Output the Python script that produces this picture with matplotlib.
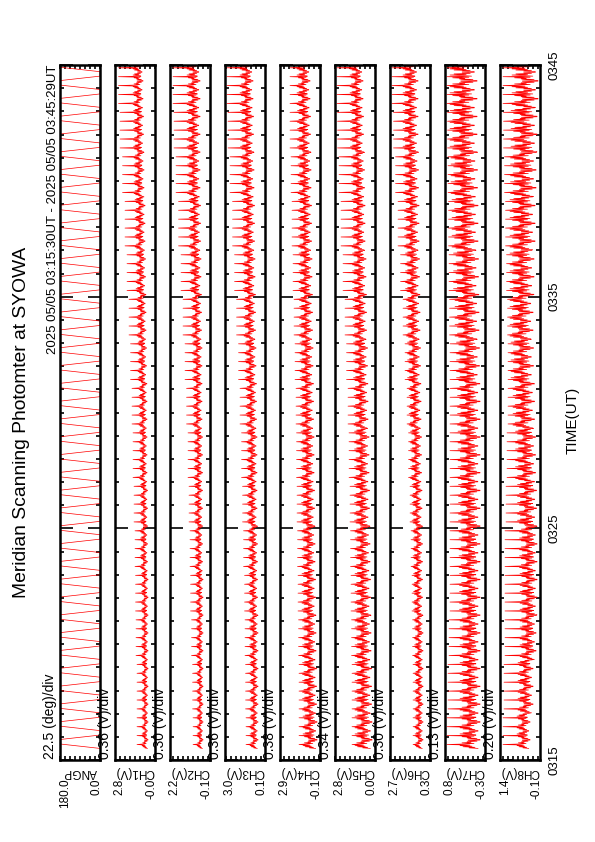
import numpy as np
import matplotlib.pyplot as plt
from matplotlib.ticker import MultipleLocator

plt.rcParams['font.family'] = ['Liberation Sans', 'DejaVu Sans']

# panel names, scale per division and the labels printed at both ends
names = ['ANGP', 'CH1(V)', 'CH2(V)', 'CH3(V)', 'CH4(V)', 'CH5(V)', 'CH6(V)', 'CH7(V)', 'CH8(V)']
per_div = [22.5, 0.36, 0.30, 0.36, 0.38, 0.34, 0.30, 0.13, 0.20]
div_text = ['22.5 (deg)/div', '0.36 (V)/div', '0.30 (V)/div', '0.36 (V)/div', '0.38 (V)/div',
            '0.34 (V)/div', '0.30 (V)/div', '0.13 (V)/div', '0.20 (V)/div']
low_vals = [0.0, -0.02, -0.1, 0.1, -0.1, 0.0, 0.3, -0.3, -0.1]
top_text = ['180.0', '2.8', '2.2', '3.0', '2.9', '2.8', '2.7', '0.8', '1.4']
low_text = ['0.0', '-0.0', '-0.1', '0.1', '-0.1', '0.0', '0.3', '-0.3', '-0.1']

time_ticks = [0, 10, 20, 30]
time_labels = ['0315', '0325', '0335', '0345']

# mirror sweeps: 0 -> 180 deg, hold, then back on the next sweep
n_sweeps = 78
scan_angle = [0, 22.5, 45, 67.5, 90, 112.5, 135, 157.5, 180, 180, 180, 180, 180, 180, 180, 180]

# relative brightness along one sweep (0..1); the long spike sample is marked separately
profile = [0.1, 0.55, 0.25, 0.85, 0.4, 1.0, 0.5, 0.2, 0.75, 0.3, 0.9, 0.45, 0.65, 0.15, 0.6, 0.0]
spike_at = 7

# per 2-minute block (0315-0317 ... 0343-0345), in divisions above panel minimum
base = {
    'CH1(V)': [1.4, 1.4, 1.4, 1.4, 1.5, 1.5, 1.6, 1.6, 1.7, 1.8, 1.9, 2.0, 2.2, 2.3, 2.4],
    'CH2(V)': [1.4, 1.4, 1.4, 1.4, 1.5, 1.5, 1.5, 1.6, 1.6, 1.7, 1.8, 1.9, 2.0, 2.0, 2.0],
    'CH3(V)': [1.4, 1.4, 1.4, 1.5, 1.5, 1.6, 1.6, 1.7, 1.8, 1.9, 2.0, 2.1, 2.2, 2.3, 2.4],
    'CH4(V)': [0.6, 0.7, 0.8, 0.9, 1.0, 1.1, 1.2, 1.3, 1.4, 1.5, 1.6, 1.7, 1.8, 1.9, 2.0],
    'CH5(V)': [0.6, 0.7, 0.8, 0.9, 1.0, 1.1, 1.2, 1.4, 1.5, 1.7, 1.8, 2.0, 2.1, 2.3, 2.4],
    'CH6(V)': [1.4, 1.4, 1.4, 1.5, 1.5, 1.6, 1.7, 1.8, 1.9, 2.0, 2.1, 2.2, 2.3, 2.4, 2.4],
    'CH7(V)': [1.0, 1.0, 1.0, 1.0, 1.0, 1.0, 1.0, 1.0, 1.1, 1.2, 1.3, 1.4, 1.5, 1.6, 1.6],
    'CH8(V)': [2.0, 1.4, 0.8, 0.6, 0.6, 0.7, 0.9, 1.1, 1.3, 1.4, 1.2, 1.0, 0.8, 0.6, 0.4],
}
wiggle = {
    'CH1(V)': [1.2, 1.2, 1.3, 1.3, 1.4, 1.4, 1.5, 1.6, 1.7, 1.8, 1.9, 2.0, 2.0, 2.0, 2.0],
    'CH2(V)': [1.2, 1.2, 1.3, 1.4, 1.5, 1.6, 1.7, 1.8, 1.9, 2.0, 2.2, 2.3, 2.5, 2.6, 2.6],
    'CH3(V)': [1.6, 1.6, 1.7, 1.7, 1.8, 1.9, 2.0, 2.1, 2.2, 2.3, 2.4, 2.5, 2.6, 2.6, 2.6],
    'CH4(V)': [2.8, 2.8, 2.7, 2.7, 2.6, 2.6, 2.6, 2.6, 2.6, 2.6, 2.6, 2.6, 2.6, 2.6, 2.6],
    'CH5(V)': [3.4, 3.3, 3.2, 3.1, 3.0, 3.0, 2.9, 2.8, 2.8, 2.7, 2.7, 2.6, 2.6, 2.6, 2.6],
    'CH6(V)': [1.6, 1.6, 1.7, 1.8, 1.9, 2.0, 2.2, 2.4, 2.6, 2.7, 2.8, 2.9, 3.0, 3.0, 3.0],
    'CH7(V)': [4.0, 4.0, 4.0, 4.1, 4.2, 4.3, 4.4, 4.5, 4.6, 4.8, 5.0, 5.2, 5.3, 5.4, 5.4],
    'CH8(V)': [2.6, 3.0, 3.2, 3.4, 3.5, 3.8, 4.0, 4.3, 4.5, 4.6, 4.8, 5.0, 5.1, 5.2, 5.2],
}
spike = {
    'CH1(V)': [3.6, 3.6, 3.8, 3.9, 4.0, 4.2, 4.4, 4.6, 4.9, 5.2, 5.6, 6.0, 6.5, 7.0, 7.3],
    'CH2(V)': [3.4, 3.5, 3.7, 3.9, 4.0, 4.2, 4.4, 4.7, 5.0, 5.4, 5.8, 6.3, 6.8, 7.2, 7.4],
    'CH3(V)': [3.8, 3.9, 4.0, 4.1, 4.3, 4.5, 4.7, 5.0, 5.3, 5.7, 6.1, 6.5, 7.0, 7.4, 7.6],
    'CH4(V)': [4.2, 4.2, 4.3, 4.4, 4.5, 4.6, 4.7, 4.8, 5.0, 5.2, 5.4, 5.6, 5.8, 6.0, 6.0],
    'CH5(V)': [4.6, 4.6, 4.7, 4.8, 4.9, 5.0, 5.2, 5.4, 5.7, 6.0, 6.4, 6.8, 7.2, 7.5, 7.6],
    'CH6(V)': [3.4, 3.4, 3.5, 3.6, 3.8, 4.0, 4.3, 4.6, 5.0, 5.4, 5.9, 6.4, 6.9, 7.3, 7.6],
    'CH7(V)': [7.6, 7.4, 7.2, 7.0, 7.0, 7.0, 7.0, 7.0, 7.0, 7.1, 7.2, 7.3, 7.4, 7.5, 7.6],
    'CH8(V)': [7.4, 7.2, 7.0, 7.0, 7.0, 6.8, 6.6, 6.4, 6.4, 6.5, 6.7, 6.9, 7.1, 7.3, 7.4],
}

t_start = 0.5     # 03:15:30, minutes after 03:15
t_end = 30.48     # 03:45:29
sweep_len = (t_end - t_start) / n_sweeps

fig = plt.figure(figsize=(5.95, 8.42), dpi=100)
W, H = 595.0, 842.0

for i, name in enumerate(names):
    left = 60 + 55 * i
    ax = fig.add_axes([left / W, (H - 760) / H, 40 / W, 695 / H])
    lo = low_vals[i]
    hi = lo + 8 * per_div[i]

    # build the trace sweep by sweep
    tt, vv = [], []
    n_pts = len(scan_angle)
    for k in range(n_sweeps):
        t0 = t_start + k * sweep_len
        ts = t0 + np.arange(n_pts) / n_pts * sweep_len
        if name == 'ANGP':
            vals = [a if k % 2 == 0 else 180 - a for a in scan_angle]
        else:
            b = min(int(t0 // 2), 14)
            vals = []
            for j, f in enumerate(profile if k % 2 == 0 else profile[::-1]):
                d = base[name][b] + wiggle[name][b] * f
                if j == spike_at:
                    d = spike[name][b]
                vals.append(lo + d * per_div[i])
        tt.extend(ts)
        vv.extend(vals)

    ax.plot(vv, tt, color='#ff0000', lw=0.5)
    ax.set_xlim(hi, lo)
    ax.set_ylim(0, 30)

    ax.xaxis.set_major_locator(MultipleLocator(per_div[i]))
    ax.yaxis.set_major_locator(MultipleLocator(10))
    ax.yaxis.set_minor_locator(MultipleLocator(1))
    ax.tick_params(which='both', direction='in', top=True, right=True,
                   labelbottom=False, labelleft=False, width=1.2)
    ax.tick_params(axis='x', which='major', length=3)
    ax.tick_params(axis='y', which='major', length=9)
    ax.tick_params(axis='y', which='minor', length=3)
    for sp in ax.spines.values():
        sp.set_linewidth(1.8)

    # labels under and beside each panel
    ax.text(0.5, -0.008, name, transform=ax.transAxes, rotation=180,
            ha='center', va='top', fontsize=8.5)
    ax.text(0.12, -0.027, top_text[i], transform=ax.transAxes, rotation=90,
            ha='center', va='top', fontsize=8.5)
    ax.text(0.92, -0.027, low_text[i], transform=ax.transAxes, rotation=90,
            ha='center', va='top', fontsize=8.5)
    ax.text(-0.07, 0.002, div_text[i], transform=ax.transAxes, rotation=90,
            ha='right', va='bottom', fontsize=10)

    if i == len(names) - 1:
        ax.set_yticks(time_ticks)
        ax.set_yticklabels(time_labels)
        ax.tick_params(axis='y', labelright=True, labelrotation=90, pad=6, labelsize=9.5)
        for lab in ax.get_yticklabels():
            lab.set_va('center')

fig.text(22 / W, 1 - 422 / H, 'Meridian Scanning Photomter at SYOWA', rotation=90,
         ha='center', va='center', fontsize=13.9)
fig.text(53 / W, 1 - 65 / H, '2025 05/05 03:15:30UT - 2025 05/05 03:45:29UT', rotation=90,
         ha='center', va='top', fontsize=9.5)
fig.text(573 / W, 1 - 420 / H, 'TIME(UT)', rotation=90, ha='center', va='center', fontsize=11)

fig.savefig('out.png', dpi=100)
